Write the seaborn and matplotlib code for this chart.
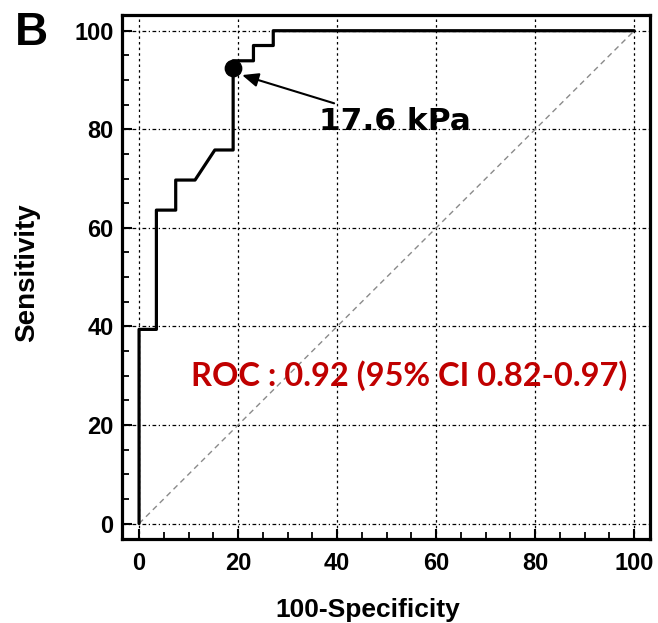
import numpy as np
import pandas as pd
import matplotlib
matplotlib.use('Agg')
import matplotlib.pyplot as plt
import seaborn as sns
from matplotlib.ticker import MultipleLocator

# ROC curve (100-Specificity vs Sensitivity, in %)
fpr = [0, 0, 3.5, 3.5, 7.4, 7.4, 11.3, 15.3, 19.0, 19.0, 23.1, 23.1, 27.1, 27.1, 100]
tpr = [0, 39.4, 39.4, 63.6, 63.6, 69.7, 69.7, 75.8, 75.8, 93.9, 93.9, 97.0, 97.0, 100, 100]

# optimal cut-off point
cut_x = [19.0]
cut_y = [92.4]
cut_label = '17.6 kPa'

ref_line = [0, 100]
auc_text = 'ROC : 0.92 (95% CI 0.82-0.97)'
ticks = [0, 20, 40, 60, 80, 100]

sns.set_style('white')
plt.rcParams['text.color'] = 'black'
plt.rcParams['axes.labelcolor'] = 'black'
plt.rcParams['xtick.color'] = 'black'
plt.rcParams['ytick.color'] = 'black'

fig = plt.figure(figsize=(6.58, 6.23), dpi=100)
ax = fig.add_axes([0.185, 0.1343, 0.803, 0.8417])

# reference diagonal
sns.lineplot(x=ref_line, y=ref_line, ax=ax, color='#8a8a8a', lw=1.0,
             linestyle=(0, (4, 3)), zorder=2)

# ROC curve
sns.lineplot(x=fpr, y=tpr, sort=False, estimator=None, ax=ax,
             color='black', lw=2.3, zorder=4)

sns.scatterplot(x=cut_x, y=cut_y, ax=ax, s=140, color='black',
                edgecolor='black', zorder=5)

ax.annotate(cut_label, xy=(20.8, 91.0), xytext=(36.3, 81.5),
            ha='left', va='center', fontsize=22.5, fontweight='bold',
            family='DejaVu Sans', color='black',
            arrowprops=dict(arrowstyle='-|>,head_length=0.7,head_width=0.3',
                            color='black', lw=1.5, shrinkA=2, shrinkB=0,
                            mutation_scale=14))

ax.text(54.5, 30.0, auc_text, ha='center', va='center', color='#C00000',
        fontsize=23.5, fontweight='bold', family='Lato')

ax.set_xlim(-3.5, 103.2)
ax.set_ylim(-3.2, 103.2)
ax.set_xticks(ticks)
ax.set_yticks(ticks)
ax.xaxis.set_minor_locator(MultipleLocator(5))
ax.yaxis.set_minor_locator(MultipleLocator(5))

ax.grid(axis='x', which='major', color='black', lw=0.9, linestyle=(0, (2, 2.5)))
ax.grid(axis='y', which='major', color='black', lw=0.9, linestyle=(0, (3, 2, 1, 2)))
ax.set_axisbelow(True)

for s in ax.spines.values():
    s.set_linewidth(2.3)
    s.set_color('black')

ax.tick_params(which='major', direction='in', length=7, width=1.5,
               bottom=True, left=True, top=False, right=False)
ax.tick_params(which='minor', direction='in', length=5, width=1.3,
               bottom=True, left=True, top=False, right=False)
ax.tick_params(axis='x', which='major', pad=9)
ax.tick_params(axis='y', which='major', pad=6)

for lab in ax.get_xticklabels() + ax.get_yticklabels():
    lab.set_family('Liberation Sans')
    lab.set_fontweight('bold')
    lab.set_fontsize(17)
    lab.set_color('black')

ax.set_xlabel('100-Specificity', fontsize=19, fontweight='bold',
              family='Liberation Sans', va='center', color='black')
ax.xaxis.set_label_coords(0.465, -0.134)
ax.set_ylabel('Sensitivity', fontsize=20, fontweight='bold',
              family='Liberation Sans', va='center', color='black')
ax.yaxis.set_label_coords(-0.179, 0.508)

fig.text(15 / 658, 1 - 45 / 623, 'B', ha='left', va='baseline',
         fontsize=33, fontweight='bold', family='Liberation Sans', color='black')

fig.savefig('out.png', dpi=100)
